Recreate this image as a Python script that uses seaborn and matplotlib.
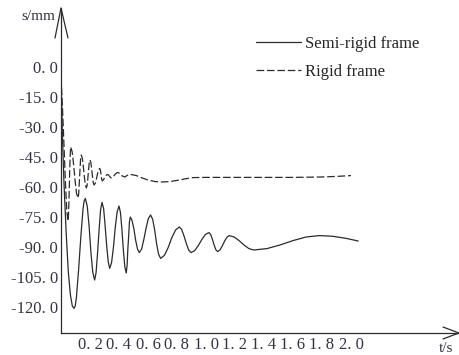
import numpy as np
import pandas as pd
import matplotlib
matplotlib.use('Agg')
import matplotlib.pyplot as plt
import seaborn as sns

# values (t in s, s in mm)
t_semi = [0.00, 0.01, 0.02, 0.035, 0.05, 0.065, 0.078, 0.09,
          0.098, 0.106, 0.121, 0.137, 0.152, 0.16, 0.168,
          0.181, 0.194, 0.206, 0.219, 0.232,
          0.242, 0.252, 0.263, 0.273, 0.283,
          0.294, 0.304, 0.315, 0.326, 0.336,
          0.349, 0.362, 0.374, 0.387, 0.40,
          0.41, 0.42, 0.43, 0.44, 0.45,
          0.456, 0.461, 0.467, 0.472, 0.478,
          0.49, 0.503, 0.515, 0.528, 0.54,
          0.556, 0.571, 0.587, 0.602, 0.618,
          0.632, 0.646, 0.659, 0.673, 0.687,
          0.713, 0.739, 0.764, 0.79, 0.816,
          0.832, 0.848, 0.865, 0.881, 0.897,
          0.922, 0.946, 0.971, 0.995, 1.02,
          1.032, 1.044, 1.056, 1.068, 1.08,
          1.096, 1.112, 1.128, 1.144, 1.16,
          1.194, 1.228, 1.262, 1.296, 1.33,
          1.42, 1.51, 1.60, 1.69, 1.78,
          1.87, 1.96, 2.05]
s_semi = [-5, -35, -57, -82, -102, -114, -119.5, -120.7,
          -119.4, -115.5, -101.7, -84.7, -70.9, -66.9, -65.7,
          -69.6, -79.8, -92.4, -102.6, -106.5,
          -102.8, -93.1, -81.1, -71.4, -67.7,
          -70.8, -79.1, -89.3, -97.6, -100.7,
          -97.7, -89.9, -80.3, -72.5, -69.5,
          -72.7, -81.1, -91.4, -99.8, -103,
          -99, -91, -84, -77.5, -75,
          -76.7, -81.1, -86.7, -91.1, -92.8,
          -91, -86.3, -80.5, -75.8, -74,
          -76.1, -81.5, -88.2, -93.6, -95.7,
          -94.2, -90.3, -85.4, -81.5, -80,
          -81.2, -84.4, -88.4, -91.6, -92.8,
          -91.8, -89.4, -86.3, -83.8, -82.8,
          -83.7, -86.1, -89, -91.4, -92.3,
          -91.5, -89.5, -87.1, -85.1, -84.3,
          -85, -86.8, -89, -90.8, -91.5,
          -90.8, -89, -86.8, -85, -84.3,
          -84.6, -85.6, -87]

t_rigid = [0.00, 0.01, 0.02, 0.03, 0.04, 0.048,
           0.052, 0.056, 0.06, 0.064, 0.067,
           0.077, 0.087, 0.097, 0.107, 0.117,
           0.122, 0.126, 0.131, 0.135, 0.14,
           0.147, 0.154, 0.161, 0.168, 0.175,
           0.18, 0.185, 0.19, 0.195, 0.20,
           0.206, 0.211, 0.217, 0.222, 0.228,
           0.236, 0.244, 0.251, 0.259, 0.267,
           0.272, 0.276, 0.281, 0.285,
           0.294, 0.302, 0.311, 0.32,
           0.329, 0.338, 0.347,
           0.36, 0.375, 0.39,
           0.405, 0.42, 0.44,
           0.455, 0.47, 0.495, 0.52, 0.56, 0.60, 0.65, 0.70, 0.75, 0.80, 0.85,
           0.91, 1.00, 1.30, 1.60, 1.80, 1.90, 2.00]
s_rigid = [-5, -20, -38, -57, -72, -77,
           -73.5, -64, -52, -43, -40,
           -42.4, -48.8, -56.7, -63.1, -65.5,
           -63.5, -58.1, -51.4, -46, -44,
           -45.6, -49.7, -54.8, -58.9, -60.5,
           -59.2, -55.7, -51.3, -47.8, -46.5,
           -47.7, -50.8, -54.7, -57.8, -59,
           -58.2, -56.1, -53.6, -51.5, -50.7,
           -51.6, -53.9, -56.3, -57,
           -56.2, -55.2, -54.2, -53.7,
           -54.1, -55, -55.5,
           -54.9, -53.5, -52.7,
           -53.2, -54.4, -55,
           -54.3, -53.7, -53.9, -54.3, -55.5, -56.5, -57.3, -57.5, -57.3, -56.7, -56,
           -55.3, -55.2, -55.2, -55.2, -55.0, -54.7, -54.3]

y_ticks = [0, -15, -30, -45, -60, -75, -90, -105, -120]
x_ticks = [0.2, 0.4, 0.6, 0.8, 1.0, 1.2, 1.4, 1.6, 1.8, 2.0]

df = pd.concat([
    pd.DataFrame({'t': t_semi, 's': s_semi, 'frame': 'Semi-rigid frame'}),
    pd.DataFrame({'t': t_rigid, 's': s_rigid, 'frame': 'Rigid frame'}),
])

sns.set_style('white')
plt.rcParams['font.family'] = ['Liberation Serif', 'DejaVu Serif']
plt.rcParams['lines.scale_dashes'] = False

W, H = 459, 355
fig = plt.figure(figsize=(W / 100, H / 100), dpi=100)
x0, y0 = 61, 333          # origin in pixels (from top-left)
x1, ytop = 459, 8
ax = fig.add_axes([x0 / W, (H - y0) / H, (x1 - x0) / W, (y0 - ytop) / H])

ink = '#2b2b2b'
sns.lineplot(data=df, x='t', y='s', style='frame', ax=ax, color=ink, lw=0.9,
             estimator=None, sort=False,
             dashes={'Semi-rigid frame': '', 'Rigid frame': (5.5, 2.0)})

ax.set_xlim(0, (x1 - x0) / 145.0)
ax.set_ylim(-133, 29.5)

for sp in ['top', 'right']:
    ax.spines[sp].set_visible(False)
for sp in ['left', 'bottom']:
    ax.spines[sp].set_color(ink)
    ax.spines[sp].set_linewidth(0.9)

ax.set_yticks(y_ticks)
ax.set_yticklabels([f'{v:.1f}'.replace('.', '. ') for v in y_ticks])
ax.set_xticks(x_ticks)
ax.set_xticklabels([f'{v:.1f}'.replace('.', '. ') for v in x_ticks])
ax.tick_params(axis='y', direction='in', length=5, width=0.9, color=ink,
               labelsize=12, labelcolor='#333344', pad=2)
ax.tick_params(axis='x', direction='in', length=7, width=0.9, color=ink,
               labelsize=12, labelcolor='#333344', pad=3)
ax.set_xlabel('')
ax.set_ylabel('')

# open arrow heads at the axis ends (pixel geometry)
def px(x, y):
    return (x / W, (H - y) / H)

for pts in ([(55, 38), (61, 8), (68, 38)], [(443, 327), (459, 333), (443, 339)]):
    xs, ys = zip(*[px(*p) for p in pts])
    fig.add_artist(plt.Line2D(xs, ys, color=ink, lw=0.9))

fig.text(*px(38, 16), 's/mm', ha='center', va='center', fontsize=11, color='#333344')
fig.text(*px(446, 349), 't/s', ha='center', va='center', fontsize=11, color='#333344')

leg = ax.legend(loc='upper left', bbox_to_anchor=px(248, 28), bbox_transform=fig.transFigure,
                frameon=False, fontsize=12, handlelength=2.7, handletextpad=0.2,
                labelspacing=0.7, borderpad=0)

fig.savefig('out.png', dpi=100)
